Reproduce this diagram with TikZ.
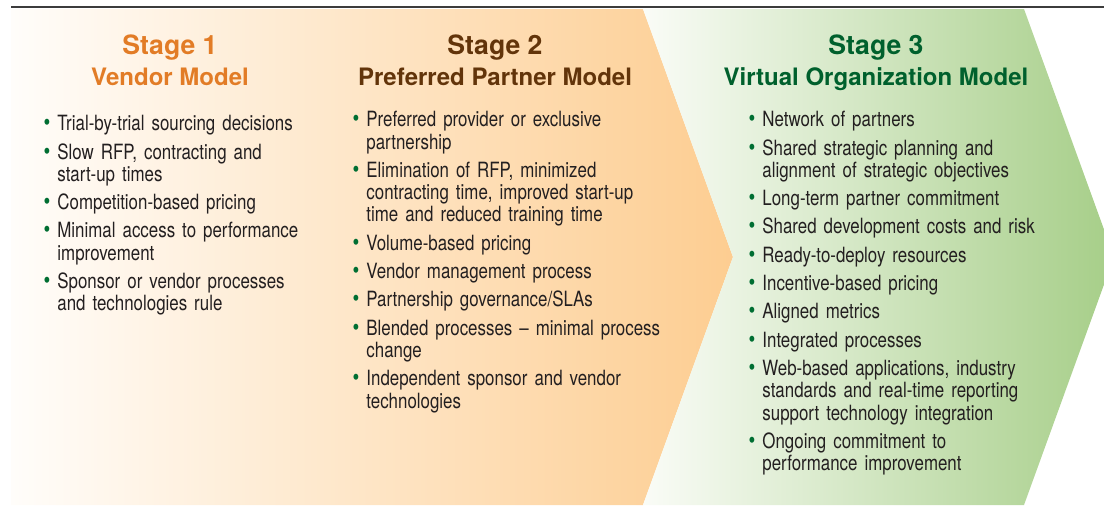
\documentclass[tikz,border=0pt]{standalone}
\usepackage{fontspec}
\usepackage{enumitem}
\setmainfont{TeX Gyre Heros}[FakeStretch=0.805]
\newfontfamily\headfont{TeX Gyre Heros}
\definecolor{stageorange}{RGB}{226,124,38}
\definecolor{stagebrown}{RGB}{98,52,10}
\definecolor{stagegreen}{RGB}{0,96,45}
\definecolor{bulletgreen}{RGB}{0,110,50}
\definecolor{bodytext}{RGB}{35,31,32}
\definecolor{peach}{RGB}{253,205,145}
\definecolor{peachlight}{RGB}{255,253,250}
\definecolor{leaf}{RGB}{166,206,136}
\definecolor{leaflight}{RGB}{250,252,247}
\definecolor{rulegray}{RGB}{60,60,60}
\setlist[itemize]{label=\textcolor{bulletgreen}{\large\textbullet},leftmargin=8pt,labelsep=3.5pt,itemsep=3pt,topsep=0pt,partopsep=0pt,parsep=0pt}
\tikzset{
  stagetitle/.style={anchor=base,inner sep=0,font=\headfont\bfseries\fontsize{13.3}{15}\selectfont},
  modeltitle/.style={anchor=base,inner sep=0,font=\headfont\bfseries\fontsize{12}{14}\selectfont},
  stagelist/.style={anchor=north west,inner sep=0,align=left,text=bodytext,font=\fontsize{10.5}{11.15}\selectfont}
}
\begin{document}
\begin{tikzpicture}[x=0.5pt,y=-0.5pt]
\useasboundingbox (0,0) rectangle (1104,505);
\clip (0,0) rectangle (1104,505);
\shade[left color=peachlight,right color=peach] (11,9) -- (643,9) -- (733,257) -- (643,505) -- (11,505) -- cycle;
\shade[left color=leaflight,right color=leaf] (643,9) -- (1024,9) -- (1114,257) -- (1024,505) -- (643,505) -- (733,257) -- cycle;
\draw[rulegray,line width=1pt] (11,7) -- (1104,7);
\node[stagetitle,stageorange] (stage1) at (170,54) {Stage 1};
\node[modeltitle,stageorange] (model1) at (170,85) {Vendor Model};
\node[stagetitle,stagebrown] (stage2) at (495,54) {Stage 2};
\node[modeltitle,stagebrown] (model2) at (495,85) {Preferred Partner Model};
\node[stagetitle,stagegreen] (stage3) at (876,54) {Stage 3};
\node[modeltitle,stagegreen] (model3) at (876,85) {Virtual Organization Model};
\node[stagelist,text width=150pt] (list1) at (41,108) {\begin{itemize}
\item Trial-by-trial sourcing decisions
\item Slow RFP, contracting and\newline start-up times
\item Competition-based pricing
\item Minimal access to performance\newline improvement
\item Sponsor or vendor processes\newline and technologies rule
\end{itemize}};
\node[stagelist,text width=175pt] (list2) at (350,104) {\begin{itemize}
\item Preferred provider or exclusive\newline partnership
\item Elimination of RFP, minimized\newline contracting time, improved start-up\newline time and reduced training time
\item Volume-based pricing
\item Vendor management process
\item Partnership governance/SLAs
\item Blended processes -- minimal process\newline change
\item Independent sponsor and vendor\newline technologies
\end{itemize}};
\node[stagelist,text width=160pt] (list3) at (746,104) {\begin{itemize}
\item Network of partners
\item Shared strategic planning and\newline alignment of strategic objectives
\item Long-term partner commitment
\item Shared development costs and risk
\item Ready-to-deploy resources
\item Incentive-based pricing
\item Aligned metrics
\item Integrated processes
\item Web-based applications, industry\newline standards and real-time reporting\newline support technology integration
\item Ongoing commitment to\newline performance improvement
\end{itemize}};
\end{tikzpicture}
\end{document}
